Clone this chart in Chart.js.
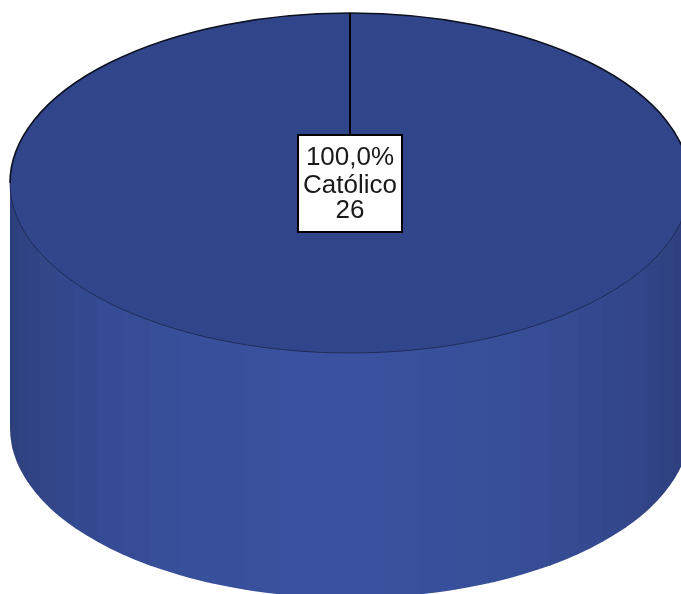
<!DOCTYPE html>
<html>
<head>
<meta charset="utf-8">
<style>
  html, body { margin: 0; padding: 0; background: #fff; }
  #pieChart { display: block; filter: blur(0.7px); }
</style>
<script src="https://cdn.jsdelivr.net/npm/chart.js@4"></script>
</head>
<body>
<canvas id="pieChart" width="681" height="594"></canvas>
<script>
const categories = ['Católico'];
const counts = [26];

// ellipse of the pie top and height of the wall, in pixels
const cx = 350, cy = 183, rx = 340, ry = 170, depth = 245;
const sideBands = 30;

function sideColor(t) {
    // t goes 0..1 from left edge to right edge of the wall
    const k = Math.pow(Math.sin(Math.PI * Math.pow(t, 0.93)), 1.25);
    const r = Math.round(44 + 13 * k);
    const g = Math.round(61 + 20 * k);
    const b = Math.round(120 + 38 * k);
    return 'rgb(' + r + ',' + g + ',' + b + ')';
}

const pie3d = {
    id: 'pie3d',
    beforeDatasetsDraw(chart) {
        const ctx = chart.ctx;
        ctx.save();
        ctx.beginPath();
        ctx.moveTo(cx - rx, cy);
        ctx.lineTo(cx - rx, cy + depth);
        ctx.ellipse(cx, cy + depth, rx, ry, 0, Math.PI, 0, true);
        ctx.lineTo(cx + rx, cy);
        ctx.closePath();
        ctx.clip();
        for (let i = 0; i < sideBands; i++) {
            const x0 = cx - rx * Math.cos(Math.PI * i / sideBands);
            const x1 = cx - rx * Math.cos(Math.PI * (i + 1) / sideBands);
            ctx.fillStyle = sideColor((i + 0.5) / sideBands);
            ctx.fillRect(x0, cy - 1, x1 - x0 + 1, depth + ry + 2);
        }
        ctx.restore();
    },
    beforeDatasetDraw(chart) {
        // squash the round pie into the tilted top
        const arc = chart.getDatasetMeta(0).data[0];
        const ctx = chart.ctx;
        ctx.save();
        ctx.translate(cx, cy);
        ctx.scale(rx / arc.outerRadius, ry / arc.outerRadius);
        ctx.translate(-arc.x, -arc.y);
    },
    afterDatasetDraw(chart) {
        chart.ctx.restore();
    },
    afterDatasetsDraw(chart) {
        const ctx = chart.ctx;
        ctx.save();
        // rim: heavy at the back, fine at the front
        ctx.strokeStyle = '#0c1020';
        ctx.lineWidth = 1.6;
        ctx.beginPath();
        ctx.ellipse(cx, cy, rx, ry, 0, Math.PI, 0);
        ctx.stroke();
        ctx.strokeStyle = 'rgba(20,28,60,0.8)';
        ctx.lineWidth = 0.8;
        ctx.beginPath();
        ctx.ellipse(cx, cy, rx, ry, 0, 0, Math.PI);
        ctx.stroke();

        // leader line from the back of the slice to its label
        const boxW = 104, boxH = 97, boxY = 135;
        ctx.strokeStyle = '#000';
        ctx.lineWidth = 2;
        ctx.beginPath();
        ctx.moveTo(cx, cy - ry);
        ctx.lineTo(cx, boxY);
        ctx.stroke();

        ctx.fillStyle = '#fff';
        ctx.fillRect(cx - boxW / 2, boxY, boxW, boxH);
        ctx.strokeRect(cx - boxW / 2, boxY, boxW, boxH);

        const total = counts.reduce((a, b) => a + b, 0);
        const lines = [
            (counts[0] / total * 100).toFixed(1).replace('.', ',') + '%',
            categories[0],
            String(counts[0])
        ];
        const lineY = [158, 186, 211];
        ctx.fillStyle = '#1a1a1a';
        ctx.font = '26px "Liberation Sans", Arial, sans-serif';
        ctx.textAlign = 'center';
        ctx.textBaseline = 'middle';
        lines.forEach((text, i) => {
            ctx.fillText(text, cx, lineY[i]);
        });
        ctx.restore();
    }
};

const ctx = document.getElementById('pieChart').getContext('2d');
new Chart(ctx, {
    type: 'pie',
    data: {
        labels: categories,
        datasets: [{
            data: counts,
            backgroundColor: '#31468a',
            borderWidth: 0
        }]
    },
    options: {
        responsive: false,
        animation: false,
        plugins: {
            legend: { display: false },
            tooltip: { enabled: false }
        }
    },
    plugins: [pie3d]
});
</script>
</body>
</html>
